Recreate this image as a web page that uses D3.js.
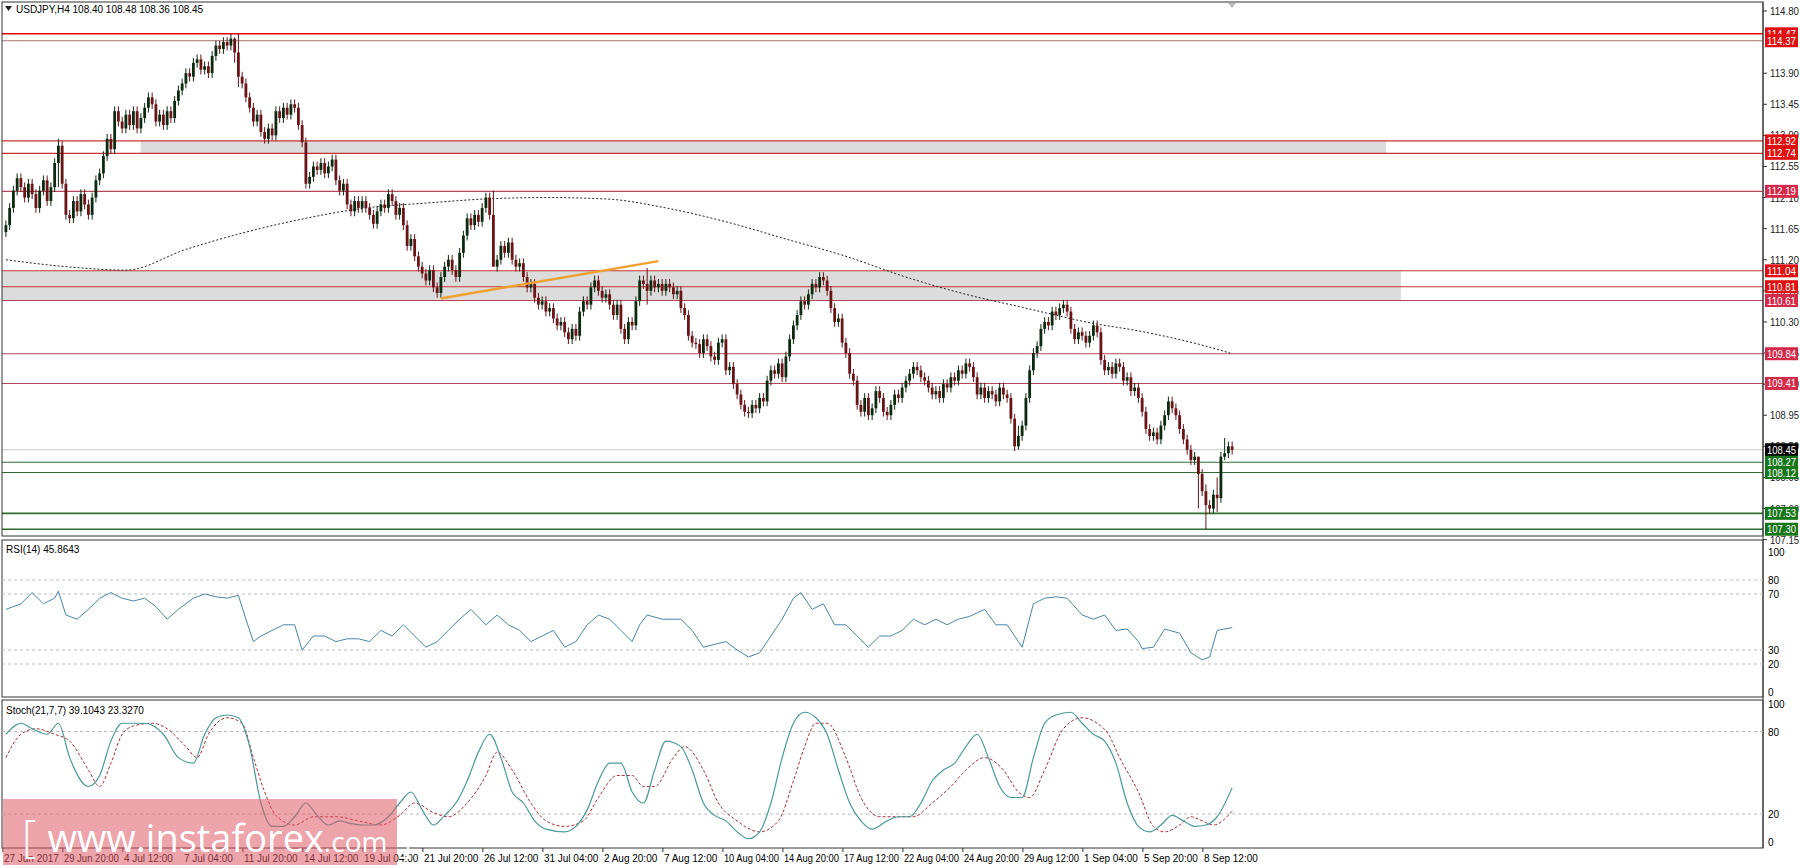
<!DOCTYPE html>
<html><head><meta charset="utf-8">
<script src="https://cdn.jsdelivr.net/npm/d3@7"></script>
<style>body{margin:0;background:#fff}svg{display:block;font-family:"Liberation Sans",Arial,sans-serif}</style>
</head><body><svg id="c" width="1800" height="868"></svg>
<script>
const closes=[
111.70,111.95,112.20,112.38,112.25,112.10,112.30,112.15,111.95,112.20,112.35,112.05,112.25,112.60,112.85,112.30,
111.85,111.80,112.05,111.90,112.15,112.00,111.85,112.10,112.35,112.45,112.70,112.95,112.80,113.35,113.20,113.10,
113.30,113.15,113.35,113.10,113.25,113.40,113.55,113.45,113.20,113.30,113.15,113.35,113.25,113.50,113.65,113.75,
113.90,113.85,114.05,114.10,113.95,114.00,113.90,114.15,114.30,114.25,114.35,114.30,114.40,114.20,113.85,113.75,
113.55,113.40,113.20,113.30,113.05,112.95,113.10,113.00,113.35,113.25,113.40,113.30,113.45,113.40,113.15,112.90,
112.30,112.40,112.55,112.50,112.60,112.45,112.55,112.65,112.35,112.20,112.30,112.00,111.90,112.05,111.95,112.05,
111.95,111.85,111.72,111.90,112.00,111.95,112.15,112.05,111.85,111.95,111.70,111.40,111.50,111.25,111.10,111.00,
110.90,111.05,110.80,110.72,110.95,111.10,111.20,111.05,110.95,111.30,111.55,111.80,111.70,111.85,111.75,111.95,
112.10,111.85,111.10,111.20,111.40,111.30,111.45,111.20,111.10,111.15,110.95,110.80,110.85,110.65,110.55,110.60,
110.45,110.50,110.35,110.25,110.30,110.15,110.05,110.20,110.10,110.45,110.60,110.55,110.80,110.90,110.75,110.65,
110.70,110.55,110.40,110.55,110.20,110.05,110.30,110.25,110.60,110.90,110.85,110.75,110.90,110.80,110.85,110.75,
110.85,110.80,110.70,110.75,110.50,110.40,110.10,110.00,109.98,109.85,110.05,109.95,109.80,109.75,110.00,110.05,
109.60,109.65,109.40,109.25,109.10,109.00,108.98,109.10,109.05,109.20,109.15,109.45,109.60,109.55,109.70,109.50,
109.80,110.05,110.25,110.40,110.60,110.55,110.70,110.85,110.80,110.95,110.90,110.75,110.50,110.30,110.35,110.00,
109.85,109.55,109.45,109.10,109.00,109.20,108.95,109.05,109.30,109.20,109.00,108.95,109.10,109.25,109.20,109.35,
109.45,109.55,109.65,109.60,109.50,109.45,109.35,109.25,109.30,109.20,109.40,109.35,109.50,109.45,109.60,109.55,
109.70,109.65,109.50,109.25,109.35,109.20,109.30,109.25,109.15,109.35,109.25,109.20,108.90,108.50,108.65,108.80,
109.20,109.60,109.85,109.95,110.20,110.30,110.25,110.45,110.40,110.50,110.55,110.45,110.20,110.05,110.15,110.10,
110.00,110.10,110.25,110.15,109.75,109.60,109.65,109.55,109.70,109.65,109.45,109.50,109.30,109.35,109.20,109.00,
108.75,108.65,108.70,108.60,108.80,108.95,109.15,109.05,108.95,108.75,108.60,108.45,108.30,108.35,108.10,107.85,
107.65,107.60,107.80,107.75,108.35,108.40,108.50,108.45];
const firstOpen=111.60, wick=0.07;
const spikeBars=[14,61,62,130,171,270,318,320,323,325];
const spikeHigh=[112.95,114.42,114.47,112.20,111.08,108.80,108.35,107.95,108.05,108.62];
const spikeLow=[112.25,114.05,113.70,111.70,110.55,108.45,107.60,107.30,107.55,108.30];
const maBars=[0,16,32,48,64,80,96,112,128,144,160,176,192,208,224,240,256,272,288,304,320,327];
const maVals=[111.20,111.10,111.05,111.35,111.60,111.80,111.95,112.02,112.08,112.10,112.08,111.95,111.75,111.50,111.25,110.95,110.70,110.50,110.30,110.15,109.95,109.84];
const trendBars=[116,174], trendVals=[110.64,111.18];
const levels=[114.47,114.37,112.92,112.74,112.19,111.04,110.81,110.61,109.84,109.41,108.45,108.27,108.12,107.53,107.30];
const levelKind=["r","r","r","r","c","r","r","c","c","c","k","g","g","g","g"];
const zones=[[112.92,112.74,37,368],[111.04,110.61,0,372]];
const priceTicks=[114.80,113.90,113.45,113.00,112.55,112.10,111.65,111.20,110.75,110.30,109.85,109.40,108.95,108.50,108.05,107.60,107.15];
const rsiBars=[0,4,7,10,13,14,16,19,22,25,28,31,34,37,40,43,46,50,53,56,59,62,64,66,68,71,74,77,79,82,85,88,91,94,97,100,103,106,109,112,115,118,121,124,128,131,134,137,140,143,146,149,152,155,158,161,164,167,169,171,175,180,183,186,189,192,195,198,201,204,207,210,212,215,218,221,224,227,230,233,236,239,242,245,248,251,254,257,261,264,267,270,271,274,277,280,283,287,290,293,296,299,302,303,306,309,313,316,319,321,323,327];
const rsiVals=[59,63,71,63,67,72,55,52,59,67,71,67,65,67,61,52,59,67,70,68,67,69,52,36,40,44,48,48,30,40,40,36,38,38,36,44,40,48,40,32,36,44,52,59,48,55,48,44,36,40,44,32,36,48,55,52,44,36,48,55,52,52,44,32,34,36,30,25,28,40,52,67,71,59,63,48,48,40,32,40,40,44,52,48,52,48,52,54,59,48,48,36,32,63,67,68,67,55,52,55,44,45,36,31,32,45,42,28,23,25,44,46];
const kBars=[0,4,7,11,14,17,22,25,28,31,34,37,42,46,50,53,56,59,62,65,68,71,74,77,80,83,86,89,92,95,98,102,105,108,111,114,117,120,123,126,129,132,135,138,141,144,149,152,155,158,161,164,167,170,173,176,180,183,186,189,192,195,198,201,204,207,210,213,216,219,222,225,228,231,235,238,241,244,247,250,253,256,259,262,265,268,271,274,277,280,284,287,290,293,296,299,302,305,308,311,314,317,320,323,327];
const kVals=[78,86,82,78,86,61,40,48,73,86,86,86,78,61,57,78,90,92,90,69,28,11,11,18,28,19,12,15,13,12,12,18,28,36,23,12,19,28,44,65,78,61,36,28,15,9,7,11,23,44,57,57,36,28,52,73,69,52,28,19,15,7,2,7,28,61,86,94,90,78,52,28,15,9,15,18,18,28,44,52,57,69,78,61,40,32,32,61,86,92,94,86,78,73,57,28,11,7,12,19,15,11,12,18,39];
const dBars=[0,4,8,13,17,22,25,28,31,34,39,43,48,51,54,59,63,66,69,72,77,82,88,94,100,105,109,114,118,123,128,131,135,140,144,149,154,158,163,167,170,173,178,181,186,190,195,201,206,210,213,216,219,224,228,233,238,242,247,252,256,261,266,270,273,277,282,287,291,294,297,302,306,309,313,316,319,322,327];
const dVals=[61,78,82,78,73,52,40,57,78,84,86,82,69,61,78,90,86,61,36,19,12,18,18,15,12,19,28,21,18,28,48,65,52,28,15,11,15,32,48,48,40,40,61,69,52,28,15,7,15,44,69,86,86,61,32,18,18,18,28,40,52,61,52,36,32,52,82,90,86,78,61,36,11,7,12,18,15,12,22];
const dateLabels=["27 Jun 2017","29 Jun 20:00","4 Jul 12:00","7 Jul 04:00","11 Jul 20:00","14 Jul 12:00","19 Jul 04:00","21 Jul 20:00","26 Jul 12:00","31 Jul 04:00","2 Aug 20:00","7 Aug 12:00","10 Aug 04:00","14 Aug 20:00","17 Aug 12:00","22 Aug 04:00","24 Aug 20:00","29 Aug 12:00","1 Sep 04:00","5 Sep 20:00","8 Sep 12:00"];
const rsiTicks=[100,80,70,30,20,0], rsiGrid=[80,70,30,20];
const stTicks=[100,80,20,0], stGrid=[80,20];

const svg=d3.select("#c");
const AX=1763, L=2, FS=10;
function fit(sel,max){sel.each(function(){const w=this.getComputedTextLength();if(w>max){d3.select(this).attr("textLength",max).attr("lengthAdjust","spacingAndGlyphs");}});return sel;}
const x=d3.scaleLinear().domain([0,1]).range([5.9,9.65]);
const y=d3.scaleLinear().domain([114.80,107.15]).range([11,539.6]);
const yr=d3.scaleLinear().domain([0,100]).range([692,552]);
const ys=d3.scaleLinear().domain([0,100]).range([841.5,704]);

zones.forEach(z=>svg.append("rect").attr("x",x(z[2])-4).attr("y",y(z[0])).attr("width",x(z[3])-x(z[2])+4).attr("height",y(z[1])-y(z[0])).attr("fill","#dcdcdc"));
const lc={r:"#c83232",c:"#b4485a",k:"#c8c8c8",g:"#2e6e2e"};
levels.forEach((v,i)=>{svg.append("line").attr("x1",L).attr("x2",AX).attr("y1",y(v)).attr("y2",y(v))
 .attr("stroke",i==0?"#e00000":(i==1?"#a07070":lc[levelKind[i]])).attr("stroke-width",i==0||i>=13?1.6:1.1);});
svg.append("path").datum(maBars.map((b,i)=>[b,maVals[i]])).attr("fill","none").attr("stroke","#222").attr("stroke-dasharray","2,2")
 .attr("d",d3.line().x(d=>x(d[0])).y(d=>y(d[1])).curve(d3.curveMonotoneX));
const opens=closes.map((c,i)=>i?closes[i-1]:firstOpen);
const g=svg.append("g");
closes.forEach((c,i)=>{const o=opens[i];let hi=Math.max(o,c)+wick,lo=Math.min(o,c)-wick;
 const k=spikeBars.indexOf(i); if(k>=0){hi=Math.max(spikeHigh[k],Math.max(o,c));lo=Math.min(spikeLow[k],Math.min(o,c));}
 const col=c>=o?"#0c2a10":"#6a1418"; const cx=x(i);
 g.append("line").attr("x1",cx).attr("x2",cx).attr("y1",y(hi)).attr("y2",y(lo)).attr("stroke",col).attr("stroke-width",1);
 g.append("rect").attr("x",cx-1.4).attr("width",2.8).attr("y",y(Math.max(o,c))).attr("height",Math.max(1,Math.abs(y(o)-y(c)))).attr("fill",col);
});
svg.append("line").attr("x1",x(trendBars[0])).attr("x2",x(trendBars[1])).attr("y1",y(trendVals[0])).attr("y2",y(trendVals[1])).attr("stroke","#f0a030").attr("stroke-width",2.5);
const ax=svg.append("g").attr("font-size",FS).attr("fill","#222");
ax.append("line").attr("x1",AX).attr("x2",AX).attr("y1",2).attr("y2",848).attr("stroke","#333");
priceTicks.forEach(v=>{ax.append("line").attr("x1",AX).attr("x2",AX+4).attr("y1",y(v)).attr("y2",y(v)).attr("stroke","#333");
 fit(ax.append("text").attr("x",AX+7).attr("y",y(v)+4).text(v.toFixed(2)),29);});
const bc={r:"#e01010",c:"#d42a4a",k:"#000",g:"#17761a"};
levels.forEach((v,i)=>{ax.append("rect").attr("x",AX+2).attr("y",y(v)-6.5).attr("width",33).attr("height",13).attr("fill",bc[levelKind[i]]);
 fit(ax.append("text").attr("x",AX+4).attr("y",y(v)+4).attr("fill","#fff").text(v.toFixed(2)),29);});
const fr=svg.append("g").attr("stroke","#333").attr("fill","none");
[[2,536],[540,697],[700,848]].forEach(p=>fr.append("rect").attr("x",L).attr("y",p[0]).attr("width",AX-L).attr("height",p[1]-p[0]));
rsiGrid.forEach(v=>svg.append("line").attr("x1",L).attr("x2",AX).attr("y1",yr(v)).attr("y2",yr(v)).attr("stroke","#bbb").attr("stroke-dasharray","3,3"));
rsiTicks.forEach(v=>svg.append("text").attr("x",AX+5).attr("y",yr(v)+4).attr("font-size",FS).text(v));
svg.append("path").datum(rsiBars.map((b,i)=>[b,rsiVals[i]])).attr("fill","none").attr("stroke","#4a86a8").attr("stroke-width",1)
 .attr("d",d3.line().x(d=>x(d[0])).y(d=>yr(d[1])));
svg.append("text").attr("x",6).attr("y",553).attr("font-size",FS).text("RSI(14) 45.8643");
stGrid.forEach(v=>svg.append("line").attr("x1",L).attr("x2",AX).attr("y1",ys(v)).attr("y2",ys(v)).attr("stroke","#bbb").attr("stroke-dasharray","3,3"));
stTicks.forEach(v=>svg.append("text").attr("x",AX+5).attr("y",ys(v)+4).attr("font-size",FS).text(v));
svg.append("path").datum(dBars.map((b,i)=>[b,dVals[i]])).attr("fill","none").attr("stroke","#b03030").attr("stroke-dasharray","3,2")
 .attr("d",d3.line().x(d=>x(d[0])).y(d=>ys(d[1])).curve(d3.curveMonotoneX));
svg.append("path").datum(kBars.map((b,i)=>[b,kVals[i]])).attr("fill","none").attr("stroke","#4a9a9a").attr("stroke-width",1.2)
 .attr("d",d3.line().x(d=>x(d[0])).y(d=>ys(d[1])).curve(d3.curveMonotoneX));
svg.append("text").attr("x",6).attr("y",714).attr("font-size",FS).text("Stoch(21,7,7) 39.1043 23.3270");
dateLabels.forEach((t,i)=>{const px=x(i*16)-3;svg.append("line").attr("x1",px).attr("x2",px).attr("y1",848).attr("y2",852).attr("stroke","#333");
 fit(svg.append("text").attr("x",px+1).attr("y",862).attr("font-size",FS).text(t),55);});
svg.append("path").attr("d","M5,6 L12,6 L8.5,11 Z").attr("fill","#222");
svg.append("text").attr("x",16).attr("y",13).attr("font-size",FS).text("USDJPY,H4  108.40 108.48 108.36 108.45");
svg.append("path").attr("d","M1228,3 L1236,3 L1232,8 Z").attr("fill","#bbb");
svg.append("rect").attr("x",3).attr("y",799).attr("width",394).attr("height",66).attr("fill","rgba(222,90,100,0.55)");
const wm=svg.append("text").attr("x",22).attr("y",852).attr("fill","#fff").attr("font-family","'Open Sans',sans-serif");
wm.append("tspan").attr("font-size",44).attr("font-weight",300).text("[ ");
wm.append("tspan").attr("font-size",38).text("www.instaforex");
wm.append("tspan").attr("font-size",28).text(".com");
wm.append("tspan").attr("font-size",44).attr("font-weight",300).text(" ]");
</script></body></html>
